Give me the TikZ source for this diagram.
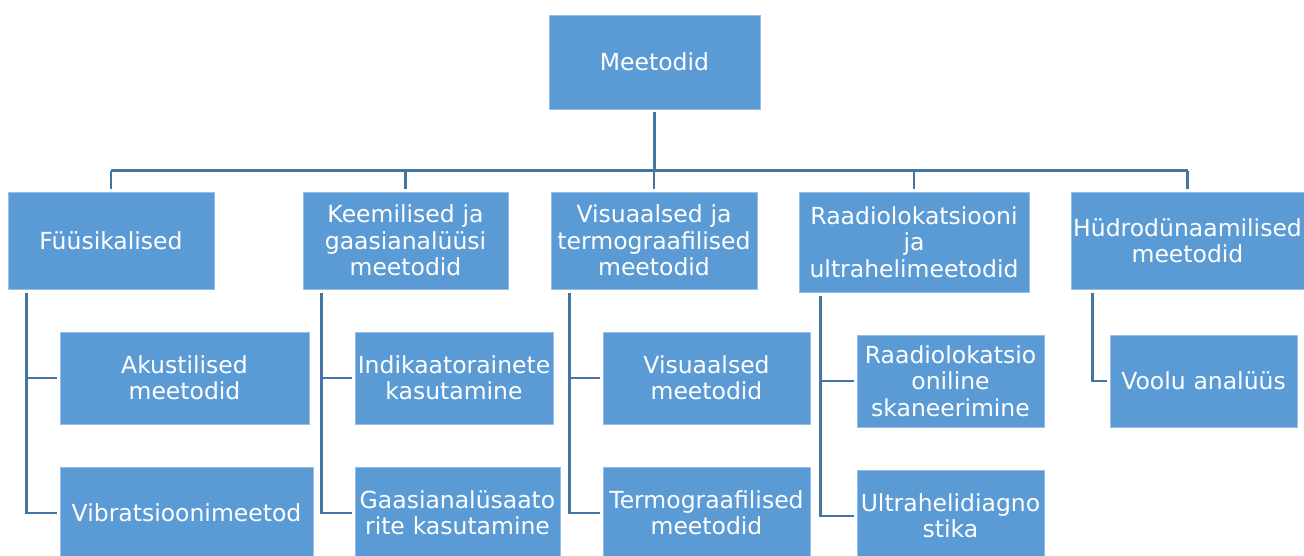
\documentclass[tikz,border=0pt]{standalone}
\usepackage{fontspec}
\setmainfont{DejaVu Sans}
\usetikzlibrary{calc}
\definecolor{boxfill}{RGB}{91,155,213}
\definecolor{boxedge}{RGB}{150,190,230}
\definecolor{linecol}{RGB}{68,116,162}
\tikzset{
  box/.style={rectangle, fill=boxfill, draw=boxedge, line width=0.7pt, text=white,
    inner sep=0pt, align=center, font=\fontsize{23.5}{26.3}\selectfont},
  conn/.style={draw=linecol, line width=2.6pt},
}
\begin{document}
\begin{tikzpicture}[x=1pt,y=-1pt]
\useasboundingbox[fill=white] (0,0) rectangle (1304,556);
% level 1
\node[box, text width=211pt, minimum height=94pt] (meetodid) at (654.5,62) {Meetodid};
% level 2
\node[box, text width=206pt, minimum height=97pt] (fyys) at (111,240.5) {Füüsikalised};
\node[box, text width=205pt, minimum height=97pt] (keem) at (405.5,240.5) {Keemilised ja\\gaasianalüüsi\\meetodid};
\node[box, text width=206pt, minimum height=97pt] (vis) at (654,240.5) {Visuaalsed ja\\termograafilised\\meetodid};
\node[box, text width=230pt, minimum height=100pt] (raadio) at (914,242) {Raadiolokatsiooni\\ja\\ultrahelimeetodid};
\node[box, text width=233pt, minimum height=97pt] (hydro) at (1187.5,240.5) {Hüdrodünaamilised\\meetodid};
% level 3
\node[box, text width=249pt, minimum height=92pt] (akust) at (184.5,378) {Akustilised\\meetodid};
\node[box, text width=253pt, minimum height=92pt] (vibr) at (186.5,513) {Vibratsioonimeetod};
\node[box, text width=198pt, minimum height=92pt] (indik) at (454,378) {Indikaatorainete\\kasutamine};
\node[box, text width=205pt, minimum height=92pt] (gaas) at (457.5,513) {Gaasianalüsaato\\rite kasutamine};
\node[box, text width=207pt, minimum height=92pt] (vism) at (706.5,378) {Visuaalsed\\meetodid};
\node[box, text width=207pt, minimum height=92pt] (termo) at (706.5,513) {Termograafilised\\meetodid};
\node[box, text width=187pt, minimum height=92pt] (rlok) at (950.5,381) {Raadiolokatsio\\oniline\\skaneerimine};
\node[box, text width=187pt, minimum height=92pt] (ultra) at (950.5,516) {Ultrahelidiagno\\stika};
\node[box, text width=187pt, minimum height=92pt] (voolu) at (1203.5,381) {Voolu analüüs};
% top tree
\coordinate (busL) at ($(fyys.north)+(0,21pt)$);
\coordinate (busR) at ($(hydro.north)+(0,21pt)$);
\draw[conn, shorten <=3pt] (meetodid.south) -- (meetodid.south |- busL);
\draw[conn] (busL) -- (busR);
\foreach \c in {fyys,keem,vis,raadio,hydro}{
  \draw[conn, shorten >=3pt] (\c.north |- busL) -- (\c.north);
}
% brackets
\coordinate (fyysT) at ($(fyys.south west)+(19pt,-4pt)$);
\draw[conn] (fyysT) |- ([xshift=-3pt]vibr.west);
\draw[conn] (fyysT |- akust.west) -- ([xshift=-3pt]akust.west);
\coordinate (keemT) at ($(keem.south west)+(19pt,-4pt)$);
\draw[conn] (keemT) |- ([xshift=-3pt]gaas.west);
\draw[conn] (keemT |- indik.west) -- ([xshift=-3pt]indik.west);
\coordinate (visT) at ($(vis.south west)+(19pt,-4pt)$);
\draw[conn] (visT) |- ([xshift=-3pt]termo.west);
\draw[conn] (visT |- vism.west) -- ([xshift=-3pt]vism.west);
\coordinate (raadioT) at ($(raadio.south west)+(22pt,-4pt)$);
\draw[conn] (raadioT) |- ([xshift=-3pt]ultra.west);
\draw[conn] (raadioT |- rlok.west) -- ([xshift=-3pt]rlok.west);
\coordinate (hydroT) at ($(hydro.south west)+(22pt,-4pt)$);
\draw[conn] (hydroT) |- ([xshift=-3pt]voolu.west);
\end{tikzpicture}
\end{document}
